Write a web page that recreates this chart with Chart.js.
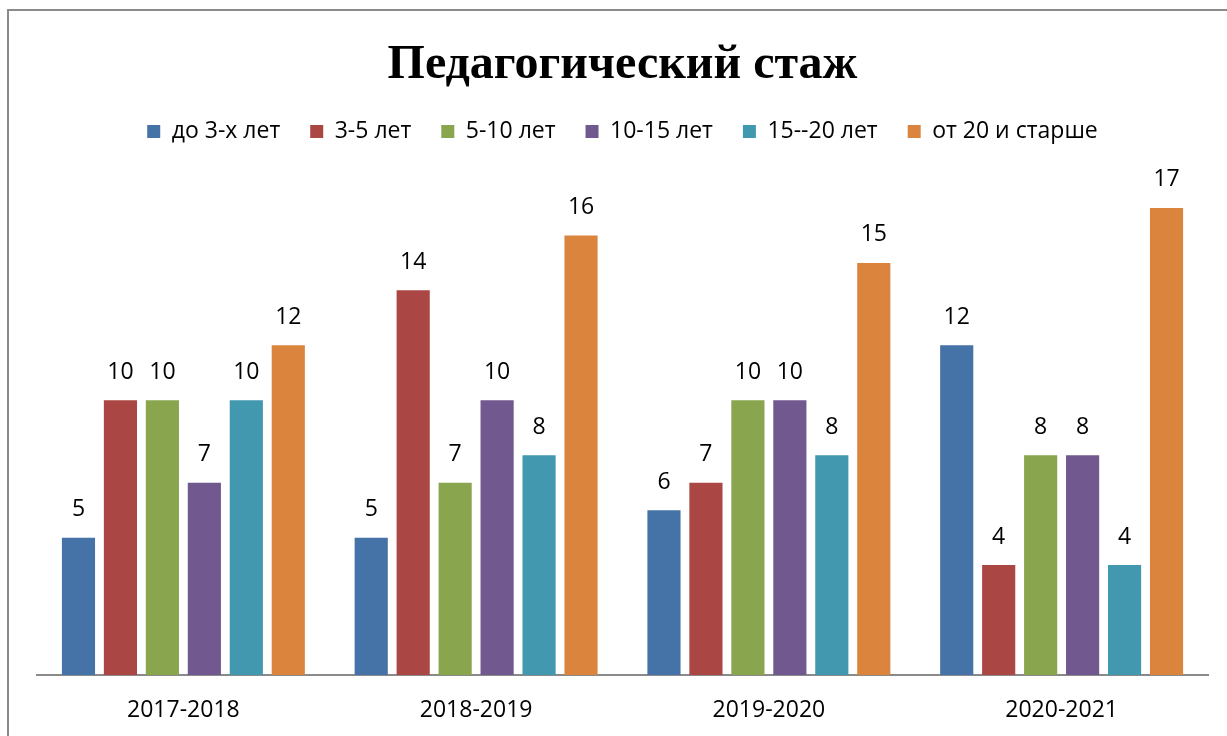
<!DOCTYPE html>
<html>
<head>
<meta charset="utf-8">
<script src="https://cdn.jsdelivr.net/npm/chart.js@4/dist/chart.umd.min.js"></script>
<style>
  html, body { margin: 0; padding: 0; background: #fff; }
  #wrap { width: 1227px; height: 736px; position: relative; }
</style>
</head>
<body>
<div id="wrap"><canvas id="stazhChart"></canvas></div>
<script>
const years = ['2017-2018', '2018-2019', '2019-2020', '2020-2021'];
const seriesNames = ['до 3-х лет', '3-5 лет', '5-10 лет', '10-15 лет', '15--20 лет', 'от 20 и старше'];
const do3 = [5, 5, 6, 12];
const s3to5 = [10, 14, 7, 4];
const s5to10 = [10, 7, 10, 8];
const s10to15 = [7, 10, 10, 8];
const s15to20 = [10, 8, 8, 4];
const ot20 = [12, 16, 15, 17];
const colors = ['#4572A7', '#AA4643', '#89A54E', '#71588F', '#4198AF', '#DB843D'];

const allValues = [do3, s3to5, s5to10, s10to15, s15to20, ot20];
const textFont = "'Open Sans', sans-serif";

// рамка области диаграммы
const frame = {
  id: 'frame',
  beforeDraw(chart) {
    const c = chart.ctx;
    c.save();
    c.strokeStyle = '#8a8a8a';
    c.lineWidth = 2;
    c.strokeRect(8, 10, 1400, 900);
    c.restore();
  }
};

// подписи значений над столбцами
const valueLabels = {
  id: 'valueLabels',
  afterDatasetsDraw(chart) {
    const c = chart.ctx;
    c.save();
    c.font = '23px ' + textFont;
    c.fillStyle = '#000';
    c.textAlign = 'center';
    c.textBaseline = 'middle';
    chart.data.datasets.forEach((ds, i) => {
      chart.getDatasetMeta(i).data.forEach((bar, j) => {
        c.fillText(ds.data[j], bar.x, bar.y - 28);
      });
    });
    c.restore();
  }
};

new Chart(document.getElementById('stazhChart'), {
  type: 'bar',
  data: {
    labels: years,
    datasets: seriesNames.map((name, i) => ({
      label: name,
      data: allValues[i],
      backgroundColor: colors[i],
      borderWidth: 0,
      categoryPercentage: 0.86,
      barPercentage: 0.79
    }))
  },
  options: {
    responsive: true,
    maintainAspectRatio: false,
    animation: false,
    layout: {
      padding: { left: 37, right: 19, top: 20, bottom: 11 }
    },
    plugins: {
      title: {
        display: true,
        text: 'Педагогический стаж',
        color: '#000',
        font: { family: "'Liberation Serif', 'Times New Roman', serif", size: 48, weight: 'bold', lineHeight: 1.0 },
        padding: { top: 22, bottom: 0 }
      },
      legend: {
        position: 'top',
        labels: {
          boxWidth: 13,
          boxHeight: 13,
          padding: 30,
          color: '#000',
          font: { family: textFont, size: 23 }
        }
      },
      tooltip: { enabled: false }
    },
    scales: {
      x: {
        grid: { display: false, drawTicks: false },
        border: { display: true, color: '#8a8a8a', width: 2 },
        ticks: { color: '#000', padding: 22, font: { family: textFont, size: 23 } },
        afterFit(scale) { scale.height = 50; }
      },
      y: {
        display: false,
        min: 0,
        max: 19
      }
    }
  },
  plugins: [frame, valueLabels]
});
</script>
</body>
</html>
